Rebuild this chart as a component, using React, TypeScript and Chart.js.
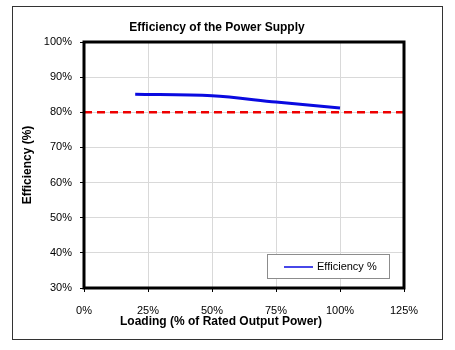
import React, { useEffect, useRef } from "react";
import { Chart, registerables } from "chart.js";

Chart.register(...registerables);

const loadingPct = [20, 50, 75, 100];
const efficiencyPct = [85.1, 84.7, 82.9, 81.2];
const limitX = [0, 125];
const limitY = [80, 80];
const seriesLabel = "Efficiency %";
const chartTitle = "Efficiency of the Power Supply";
const xTitle = "Loading (% of Rated Output Power)";
const yTitle = "Efficiency (%)";

const FONT = "'Liberation Sans', Arial, sans-serif";

const frameAndLegend = {
  id: "frameAndLegend",
  afterLayout(chart: any) {
    const t = chart.titleBlock;
    if (t) {
      t.left = 30;
      t.right = 404;
    }
  },
  afterDraw(chart: any) {
    const { ctx } = chart;
    ctx.save();
    ctx.fillStyle = "#000";
    ctx.font = "bold 12px " + FONT;
    ctx.textAlign = "center";
    ctx.textBaseline = "middle";
    ctx.fillText(xTitle, 221, 322);
    ctx.restore();
  },
  afterDatasetsDraw(chart: any) {
    const { ctx, chartArea } = chart;
    const { left, top, right, bottom } = chartArea;
    ctx.save();
    ctx.strokeStyle = "#000";
    ctx.lineWidth = 3;
    ctx.strokeRect(left, top, right - left, bottom - top);
    // legend box
    const bx = 267, by = 254, bw = 122, bh = 24;
    ctx.fillStyle = "#fff";
    ctx.fillRect(bx, by, bw, bh);
    ctx.strokeStyle = "#8c8c8c";
    ctx.lineWidth = 1;
    ctx.strokeRect(bx + 0.5, by + 0.5, bw, bh);
    const ds = chart.data.datasets[0];
    ctx.strokeStyle = ds.borderColor;
    ctx.lineWidth = 1.5;
    ctx.beginPath();
    ctx.moveTo(284, by + 13);
    ctx.lineTo(313, by + 13);
    ctx.stroke();
    ctx.fillStyle = "#000";
    ctx.font = "11px " + FONT;
    ctx.textBaseline = "middle";
    ctx.textAlign = "left";
    ctx.fillText(ds.label, 317, by + 13);
    ctx.restore();
  },
};

export default function App() {
  const ref = useRef<HTMLCanvasElement | null>(null);
  useEffect(() => {
    if (!ref.current) return;
    Chart.defaults.font.family = FONT;
    Chart.defaults.font.size = 11;
    Chart.defaults.color = "#000";
    const chart = new Chart(ref.current, {
      type: "scatter",
      data: {
        datasets: [
          {
            label: seriesLabel,
            data: loadingPct.map((x, i) => ({ x, y: efficiencyPct[i] })),
            showLine: true,
            borderColor: "#0a0ae0",
            borderWidth: 3,
            pointRadius: 0,
            cubicInterpolationMode: "monotone",
            fill: false,
          } as any,
          {
            label: "limit",
            data: limitX.map((x, i) => ({ x, y: limitY[i] })),
            showLine: true,
            borderColor: "#ee0000",
            borderWidth: 2.5,
            borderDash: [8, 5],
            pointRadius: 0,
            fill: false,
          } as any,
        ],
      },
      plugins: [frameAndLegend],
      options: {
        animation: false,
        responsive: false,
        maintainAspectRatio: false,
        layout: { padding: { left: 13, right: 51, top: 0, bottom: 0 } },
        plugins: {
          legend: { display: false },
          tooltip: { enabled: false },
          title: {
            display: true,
            text: chartTitle,
            font: { size: 12, weight: "bold", family: FONT },
            color: "#000",
            padding: { top: 20, bottom: 7.6 },
          },
        },
        scales: {
          x: {
            type: "linear",
            min: 0,
            max: 125,
            ticks: {
              stepSize: 25,
              padding: 12,
              callback: (v: any) => v + "%",
              color: "#000",
              maxRotation: 0,
            },
            grid: { color: "#d9d9d9", tickColor: "#000", tickLength: 4 },
            border: { display: false },
            title: { display: false },
            afterFit: (s: any) => {
              s.height = 62;
            },
          },
          y: {
            type: "linear",
            min: 30,
            max: 100,
            ticks: {
              stepSize: 10,
              padding: 8,
              callback: (v: any) => v + "%",
              color: "#000",
            },
            grid: { color: "#d9d9d9", tickColor: "#000", tickLength: 4 },
            border: { display: false },
            title: {
              display: true,
              text: yTitle,
              font: { size: 12, weight: "bold", family: FONT },
              color: "#000",
              padding: { top: 7, bottom: 0 },
            },
            afterFit: (s: any) => {
              s.width = 71;
            },
          },
        },
      } as any,
    });
    return () => chart.destroy();
  }, []);
  return (
    <div style={{ position: "absolute", left: 0, top: 0, width: 455, height: 350, background: "#fff" }}>
      <div
        style={{
          position: "absolute",
          left: 12,
          top: 6,
          width: 431,
          height: 334,
          border: "1px solid #333",
          boxSizing: "border-box",
        }}
      />
      <canvas ref={ref} width={455} height={350} style={{ position: "absolute", left: 0, top: 0 }} />
    </div>
  );
}
